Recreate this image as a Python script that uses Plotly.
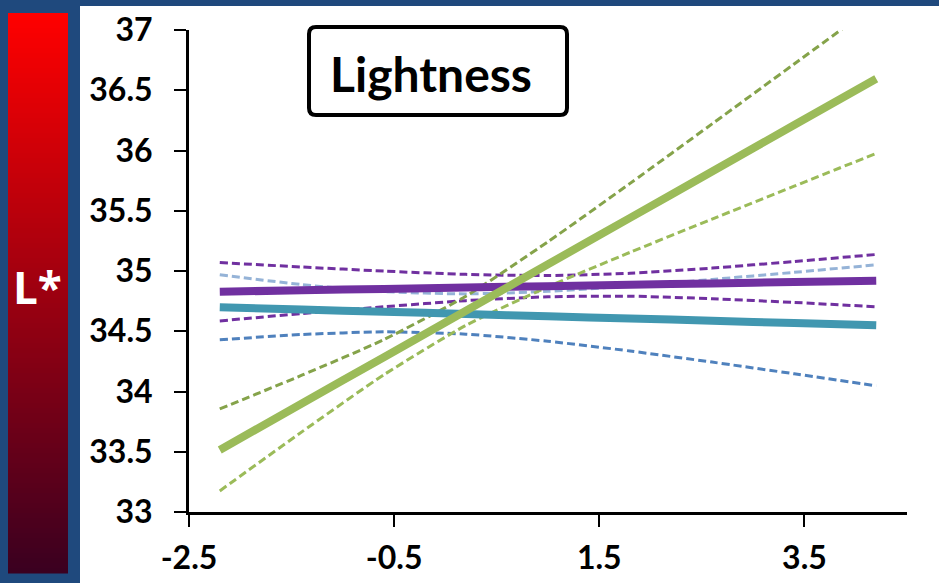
import plotly.graph_objects as go

# ---------------- data ----------------
x_vals = [-2.2, -1.4, -0.6, 0.2, 1.0, 1.8, 2.6, 3.4, 4.2]

green_fit = [33.515, 33.900, 34.285, 34.670, 35.056, 35.441, 35.826, 36.211, 36.596]
green_upper = [33.855, 34.135, 34.431, 34.791, 35.243, 35.727, 36.221, 36.718, 37.216]
green_lower = [33.175, 33.665, 34.139, 34.549, 34.869, 35.155, 35.431, 35.704, 35.976]

purple_fit = [34.828, 34.840, 34.851, 34.863, 34.874, 34.886, 34.897, 34.909, 34.920]
purple_upper = [35.070, 35.033, 34.999, 34.972, 34.962, 34.981, 35.024, 35.079, 35.137]
purple_lower = [34.586, 34.647, 34.703, 34.754, 34.786, 34.791, 34.770, 34.739, 34.703]

teal_fit = [34.699, 34.680, 34.662, 34.643, 34.624, 34.606, 34.587, 34.568, 34.549]
blue_upper = [34.969, 34.887, 34.829, 34.810, 34.831, 34.876, 34.930, 34.989, 35.051]
blue_lower = [34.429, 34.473, 34.495, 34.476, 34.417, 34.336, 34.244, 34.147, 34.047]

x_tickvals = [-2.5, -0.5, 1.5, 3.5]
x_ticktext = ["-2.5", "-0.5", "1.5", "3.5"]
y_tickvals = [33, 33.5, 34, 34.5, 35, 35.5, 36, 36.5, 37]
y_ticktext = ["33", "33.5", "34", "34.5", "35", "35.5", "36", "36.5", "37"]

title_text = "Lightness"
side_label = "L*"

# ---------------- layout geometry ----------------
W, H = 939, 583
L, R, T, B = 189, 907, 30, 512  # plot area in pixels


def xp(px):
    return (px - L) / (R - L)


def yp(py):
    return (B - py) / (B - T)


fig = go.Figure()

dash = "8px,4px"
series = [
    (x_vals, blue_upper, "#95B3D7", 3, dash),
    (x_vals, blue_lower, "#4F81BD", 3, dash),
    (x_vals, purple_upper, "#7030A0", 3, dash),
    (x_vals, purple_lower, "#7030A0", 3, dash),
    (x_vals, green_upper, "#85A34A", 3, dash),
    (x_vals, green_lower, "#9BBB59", 3, dash),
    (x_vals, teal_fit, "#4197B0", 8, "solid"),
    (x_vals, purple_fit, "#7030A0", 8, "solid"),
    (x_vals, green_fit, "#9BBB59", 8, "solid"),
]
for xs, ys, col, w, d in series:
    fig.add_trace(go.Scatter(
        x=xs, y=ys, mode="lines",
        line=dict(color=col, width=w, dash=d, shape="spline", smoothing=0.6),
        hoverinfo="skip", showlegend=False,
    ))

shapes = []
# white panel
shapes.append(dict(type="rect", xref="paper", yref="paper",
                   x0=xp(80), x1=xp(W + 5), y0=yp(H + 5), y1=yp(6),
                   fillcolor="white", line=dict(width=0), layer="below"))
# gradient strip
top, bot = 13, 573
n = 112
c0 = (255, 0, 0)
c1 = (58, 0, 32)
step = (bot - top) / n
for i in range(n):
    t = (i + 0.5) / n
    c = tuple(round(c0[k] + (c1[k] - c0[k]) * t) for k in range(3))
    shapes.append(dict(type="rect", xref="paper", yref="paper",
                       x0=xp(8), x1=xp(68),
                       y0=yp(top + (i + 1) * step + 0.5), y1=yp(top + i * step),
                       fillcolor="rgb(%d,%d,%d)" % c, line=dict(width=0),
                       layer="below"))

# rounded title box
bx0, bx1, by0, by1, r = 309, 567, 27, 115, 7
path = (
    f"M {xp(bx0 + r)},{yp(by0)} L {xp(bx1 - r)},{yp(by0)} "
    f"Q {xp(bx1)},{yp(by0)} {xp(bx1)},{yp(by0 + r)} "
    f"L {xp(bx1)},{yp(by1 - r)} Q {xp(bx1)},{yp(by1)} {xp(bx1 - r)},{yp(by1)} "
    f"L {xp(bx0 + r)},{yp(by1)} Q {xp(bx0)},{yp(by1)} {xp(bx0)},{yp(by1 - r)} "
    f"L {xp(bx0)},{yp(by0 + r)} Q {xp(bx0)},{yp(by0)} {xp(bx0 + r)},{yp(by0)} Z"
)
shapes.append(dict(type="path", xref="paper", yref="paper", path=path,
                   fillcolor="white", line=dict(color="black", width=4),
                   layer="above"))

annotations = [
    dict(text=title_text, xref="paper", yref="paper",
         x=xp(431), y=yp(73), xanchor="center", yanchor="middle",
         showarrow=False,
         font=dict(family="Lato", size=48, color="black", weight="bold")),
    dict(text=side_label, xref="paper", yref="paper",
         x=xp(37), y=yp(287), xanchor="center", yanchor="middle",
         showarrow=False,
         font=dict(family="Open Sans", size=44, color="white", weight="bold")),
]

axis_font = dict(family="Lato", size=32, color="black", weight="bold")

fig.update_layout(
    width=W, height=H,
    margin=dict(l=L, r=W - R, t=T, b=H - B, pad=0, autoexpand=False),
    paper_bgcolor="#1F497D",
    plot_bgcolor="white",
    showlegend=False,
    shapes=shapes,
    annotations=annotations,
    xaxis=dict(range=[-2.5, 4.5], tickmode="array", tickvals=x_tickvals,
               ticktext=x_ticktext, showgrid=False, zeroline=False,
               showline=True, linecolor="black", linewidth=3,
               ticks="outside", ticklen=12, tickwidth=2, tickcolor="black",
               tickfont=axis_font, ticklabelstandoff=4, fixedrange=True,
               automargin=False),
    yaxis=dict(range=[33, 37], tickmode="array", tickvals=y_tickvals,
               ticktext=y_ticktext, showgrid=False, zeroline=False,
               showline=True, linecolor="black", linewidth=3,
               ticks="outside", ticklen=12, tickwidth=2, tickcolor="black",
               tickfont=axis_font, ticklabelstandoff=15, fixedrange=True,
               automargin=False),
)

fig.write_html("out.html", config={"displayModeBar": False},
               post_script="document.body.style.margin='0';document.body.style.overflow='hidden';")
